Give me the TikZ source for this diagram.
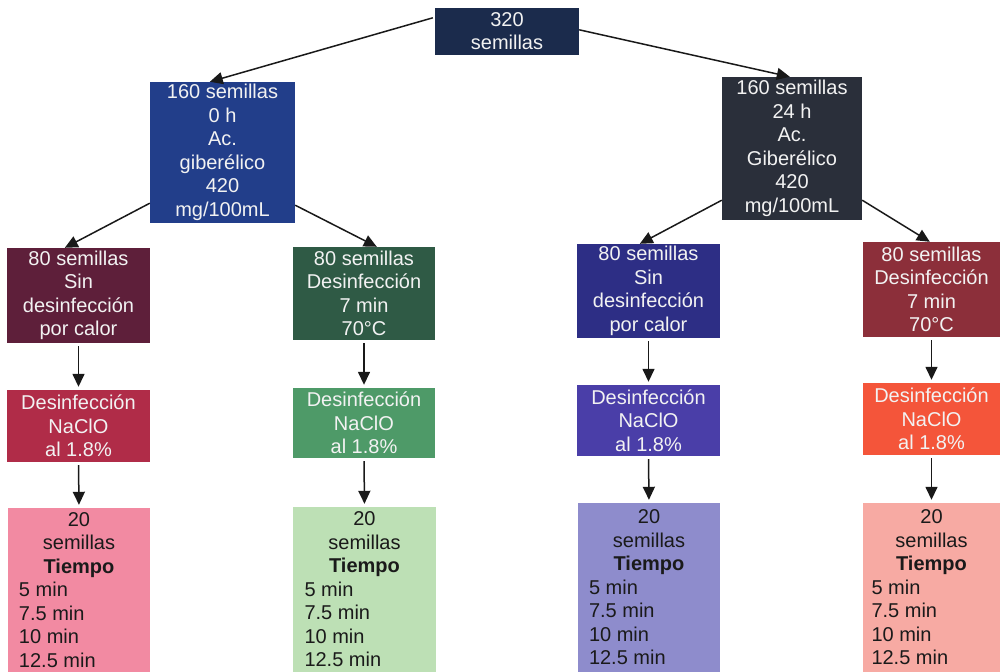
\documentclass[tikz,border=0pt]{standalone}
\usepackage{fontspec}
\setmainfont{Liberation Sans}
\usetikzlibrary{arrows.meta}
\definecolor{cTop}{HTML}{1B2B4C}
\definecolor{cLone}{HTML}{223E8A}
\definecolor{cRone}{HTML}{2A2F3A}
\definecolor{cAthree}{HTML}{5E1F3A}
\definecolor{cBthree}{HTML}{2F5A45}
\definecolor{cCthree}{HTML}{2D2E85}
\definecolor{cDthree}{HTML}{8C2F3A}
\definecolor{cAfour}{HTML}{B02C48}
\definecolor{cBfour}{HTML}{4E9A68}
\definecolor{cCfour}{HTML}{4A3EA8}
\definecolor{cDfour}{HTML}{F4553A}
\definecolor{cAfive}{HTML}{F28AA2}
\definecolor{cBfive}{HTML}{BDE0B5}
\definecolor{cCfive}{HTML}{8E8CCC}
\definecolor{cDfive}{HTML}{F7AAA3}
\definecolor{txtlight}{HTML}{F2F2F2}
\definecolor{txtdark}{HTML}{1A1A1A}
\newcommand{\lftline}[1]{\makebox[120pt][l]{#1}}
\newcommand{\tiempo}{20\\semillas\\\textbf{Tiempo}\\\lftline{5 min}\\\lftline{7.5 min}\\\lftline{10 min}\\\lftline{12.5 min}}
\begin{document}
\begin{tikzpicture}[x=1pt,y=-1pt,
  box/.style={rectangle, inner sep=0pt, align=center, text=txtlight,
    font=\fontsize{20}{23.5}\selectfont},
  lightbox/.style={box, text=txtdark},
  arr/.style={-{Triangle[length=13pt,width=12pt]}, line width=1.5pt, draw=black!90},
  varr/.style={arr, shorten <=3pt, shorten >=3pt}]
\useasboundingbox (0,0) rectangle (1002,672);

% level 1
\node[box, fill=cTop, minimum width=144pt, minimum height=47pt] (top) at (507,31.5) {320\\[-0.5pt]semillas};

% level 2
\node[box, fill=cLone, minimum width=145pt, minimum height=141pt] (L1) at (222.5,152.5)
  {160 semillas\\0 h\\Ac.\\giberélico\\420\\mg/100mL};
\node[box, fill=cRone, minimum width=140pt, minimum height=143pt] (R1) at (792,148.5)
  {160 semillas\\24 h\\Ac.\\Giberélico\\420\\mg/100mL};

% level 3
\node[box, fill=cAthree, minimum width=143pt, minimum height=95pt] (A3) at (78.5,295.5)
  {80 semillas\\Sin\\desinfección\\por calor};
\node[box, fill=cBthree, minimum width=142pt, minimum height=93pt] (B3) at (364,293.5)
  {80 semillas\\Desinfección\\7 min\\70°C};
\node[box, fill=cCthree, minimum width=143pt, minimum height=94pt] (C3) at (648.5,291)
  {80 semillas\\Sin\\desinfección\\por calor};
\node[box, fill=cDthree, minimum width=137pt, minimum height=95pt] (D3) at (931.5,289.5)
  {80 semillas\\Desinfección\\7 min\\70°C};

% level 4
\node[box, fill=cAfour, minimum width=143pt, minimum height=72pt] (A4) at (78.5,426)
  {Desinfección\\NaClO\\al 1.8\%};
\node[box, fill=cBfour, minimum width=142pt, minimum height=70pt] (B4) at (364,423)
  {Desinfección\\NaClO\\al 1.8\%};
\node[box, fill=cCfour, minimum width=143pt, minimum height=71pt] (C4) at (648.5,420.5)
  {Desinfección\\NaClO\\al 1.8\%};
\node[box, fill=cDfour, minimum width=137pt, minimum height=72pt] (D4) at (931.5,419)
  {Desinfección\\NaClO\\al 1.8\%};

% level 5
\node[lightbox, fill=cAfive, minimum width=142pt, minimum height=164pt] (A5) at (79,590) {\tiempo};
\node[lightbox, fill=cBfive, minimum width=143pt, minimum height=165pt] (B5) at (364.5,589.5) {\tiempo};
\node[lightbox, fill=cCfive, minimum width=142pt, minimum height=169pt] (C5) at (649,587.5) {\tiempo};
\node[lightbox, fill=cDfive, minimum width=137pt, minimum height=169pt] (D5) at (931.5,587.5) {\tiempo};

% connectors
\draw[arr] ([xshift=-2pt,yshift=-10pt]top.north west) -- ([xshift=60pt]L1.north west);
\draw[arr] ([yshift=-22pt]top.north east) -- ([xshift=68pt]R1.north west);
\draw[arr] ([yshift=20pt]L1.south west) -- ([xshift=58pt]A3.north west);
\draw[arr] ([yshift=18pt]L1.south east) -- ([xshift=84pt]B3.north west);
\draw[arr] ([yshift=20pt]R1.south west) -- ([xshift=63pt]C3.north west);
\draw[arr] ([yshift=20pt]R1.south east) -- ([xshift=67pt]D3.north west);

\draw[varr] (A3.south) -- (A4.north);
\draw[varr] (B3.south) -- (B4.north);
\draw[varr] (C3.south) -- (C4.north);
\draw[varr] (D3.south) -- (D4.north);
\draw[varr] (A4.south) -- (A5.north);
\draw[varr] (B4.south) -- (B5.north);
\draw[varr] (C4.south) -- (C5.north);
\draw[varr] (D4.south) -- (D5.north);
\end{tikzpicture}
\end{document}
